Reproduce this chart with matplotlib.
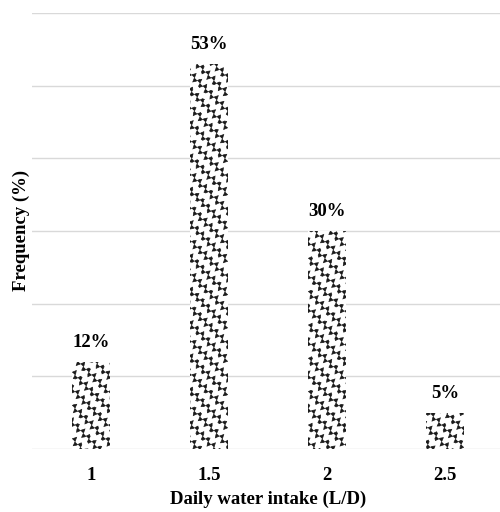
import warnings
import numpy as np
import matplotlib
matplotlib.use("Agg")
import matplotlib.pyplot as plt
import matplotlib.hatch as mhatch
from matplotlib.path import Path

warnings.filterwarnings("ignore")

# data
intake = ["1", "1.5", "2", "2.5"]
freq = [12, 53, 30, 5]


class WavyHatch(mhatch.HatchPatternBase):
    """Wavy back-diagonal lines, selected with the '~' hatch character."""

    def __init__(self, hatch, density):
        self.num_lines = int(hatch.count("~") * density)
        self.pts = 80
        self.num_vertices = (self.num_lines + 1) * self.pts if self.num_lines else 0

    def set_vertices_and_codes(self, vertices, codes):
        steps = np.linspace(-0.5, 0.5, self.num_lines + 1)
        t = np.linspace(0, 1, self.pts)
        amp = 0.5 / self.num_lines
        waves = int(self.num_lines * 1.5)
        off = amp * np.sin(2 * np.pi * waves * t)
        i = 0
        for s in steps:
            # line from (s, 1+s) to (1+s, s), offset along (1, 1)/sqrt2
            x = s + t + off / np.sqrt(2)
            y = 1 + s - t + off / np.sqrt(2)
            vertices[i:i + self.pts, 0] = x
            vertices[i:i + self.pts, 1] = y
            codes[i] = Path.MOVETO
            codes[i + 1:i + self.pts] = Path.LINETO
            i += self.pts


mhatch._hatch_types.append(WavyHatch)

plt.rcParams["font.family"] = ["Liberation Serif", "DejaVu Serif"]
plt.rcParams["hatch.linewidth"] = 0.5

fig = plt.figure(figsize=(5, 5.12), dpi=100)
ax = fig.add_axes([0.064, 0.123, 0.944, 0.852])

x = np.arange(len(intake))
bars = ax.bar(x, freq, width=0.32, facecolor="white", edgecolor="#1a1a1a",
              linewidth=0, hatch="~~", zorder=2)

for xi, v in zip(x, freq):
    ax.annotate(f"{v}%", (xi, v), xytext=(0, 8), textcoords="offset points",
                ha="center", va="bottom", fontsize=13.5, fontweight="bold")

ax.set_xlim(-0.5, 3.5)
ax.set_ylim(0, 60)
ax.set_yticks(np.arange(0, 61, 10))
ax.set_yticklabels([])
ax.yaxis.grid(True, color="#d9d9d9", linewidth=1)
ax.set_axisbelow(True)
ax.tick_params(length=0)
ax.set_xticks(x)
ax.set_xticklabels(intake, fontsize=13.5, fontweight="bold")
ax.tick_params(axis="x", pad=13)
for sp in ax.spines.values():
    sp.set_visible(False)

ax.set_xlabel("Daily water intake (L/D)", fontsize=13.5, fontweight="bold", labelpad=5)
ax.set_ylabel("Frequency (%)", fontsize=13.5, fontweight="bold", labelpad=-2)

fig.savefig("out.png", dpi=100)
